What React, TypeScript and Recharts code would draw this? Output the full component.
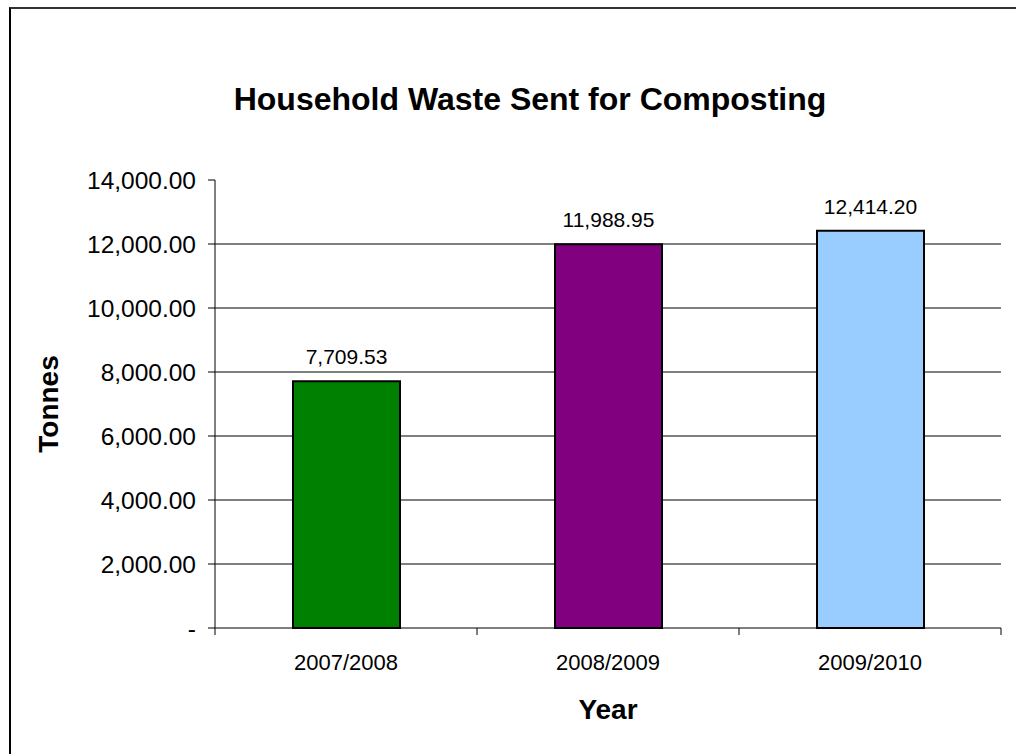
import { BarChart, Bar, XAxis, YAxis, CartesianGrid, Cell, LabelList } from "recharts"

const years = ["2007/2008", "2008/2009", "2009/2010"]
const tonnes = [7709.53, 11988.95, 12414.2]
const barColors = ["#008000", "#800080", "#99CCFF"]
const yTicks = [0, 2000, 4000, 6000, 8000, 10000, 12000, 14000]
const gridValues = [2000, 4000, 6000, 8000, 10000, 12000]

const data = years.map((year, i) => ({ year, tonnes: tonnes[i] }))

const FONT = "'Liberation Sans', Arial, sans-serif"
const CHART_W = 1016
const CHART_H = 754
const MARGIN = { top: 180, right: 15, bottom: 26, left: 0 }
const Y_AXIS_W = 215
const PLOT_W = CHART_W - MARGIN.left - MARGIN.right - Y_AXIS_W
const BAND = PLOT_W / years.length
const X_TICK_MARGIN = 26

const fmt = (v: number) =>
  v === 0 ? "-" : v.toLocaleString("en-US", { minimumFractionDigits: 2, maximumFractionDigits: 2 })

// category label plus the small tick marks on the band edges
function YearTick(props: any) {
  const { x, y, payload, index } = props
  const axisY = y - X_TICK_MARGIN
  const left = x - BAND / 2
  const right = x + BAND / 2
  return (
    <g>
      <line x1={left} x2={left} y1={axisY} y2={axisY + 7} stroke="#000" />
      {index === years.length - 1 && <line x1={right} x2={right} y1={axisY} y2={axisY + 7} stroke="#000" />}
      <text x={x} y={y} dy={16} textAnchor="middle" fontSize={22} fontFamily={FONT} fill="#000">
        {payload.value}
      </text>
    </g>
  )
}

export default function App() {
  return (
    <div
      style={{
        position: "absolute",
        left: 0,
        top: 0,
        width: CHART_W,
        height: CHART_H,
        background: "#fff",
        overflow: "hidden",
      }}
    >
      <div
        style={{
          position: "absolute",
          left: 9,
          top: 7,
          width: CHART_W + 40,
          height: CHART_H + 40,
          borderLeft: "2px solid #000",
          borderTop: "2px solid #333",
        }}
      />
      <div
        style={{
          position: "absolute",
          left: 9,
          width: 1042,
          top: 81,
          textAlign: "center",
          fontFamily: FONT,
          fontWeight: "bold",
          fontSize: 32,
          color: "#000",
        }}
      >
        Household Waste Sent for Composting
      </div>
      <div style={{ position: "absolute", left: 0, top: 0 }}>
        <BarChart width={CHART_W} height={CHART_H} data={data} margin={MARGIN}>
          <CartesianGrid horizontal vertical={false} stroke="#000" horizontalValues={gridValues} />
          <XAxis
            dataKey="year"
            height={100}
            tickLine={false}
            tickSize={0}
            tickMargin={X_TICK_MARGIN}
            axisLine={{ stroke: "#000" }}
            tick={<YearTick />}
            label={{
              value: "Year",
              position: "insideBottom",
              offset: 9,
              fontSize: 28,
              fontWeight: "bold",
              fontFamily: FONT,
              fill: "#000",
            }}
          />
          <YAxis
            width={Y_AXIS_W}
            domain={[0, 14000]}
            ticks={yTicks}
            interval={0}
            tickFormatter={fmt}
            tickSize={7}
            tickMargin={12}
            axisLine={{ stroke: "#000" }}
            tickLine={{ stroke: "#000" }}
            tick={{ fontSize: 24.5, fontFamily: FONT, fill: "#000" }}
            label={{
              value: "Tonnes",
              angle: -90,
              position: "center",
              dx: -59,
              fontSize: 28,
              fontWeight: "bold",
              fontFamily: FONT,
              fill: "#000",
            }}
          />
          <Bar dataKey="tonnes" barSize={107} stroke="#000" strokeWidth={2} isAnimationActive={false}>
            {data.map((d, i) => (
              <Cell key={d.year} fill={barColors[i]} />
            ))}
            <LabelList
              dataKey="tonnes"
              position="top"
              offset={17}
              formatter={(v: any) => fmt(Number(v))}
              style={{ fontSize: 21, fontFamily: FONT, fill: "#000" }}
            />
          </Bar>
        </BarChart>
      </div>
    </div>
  )
}
